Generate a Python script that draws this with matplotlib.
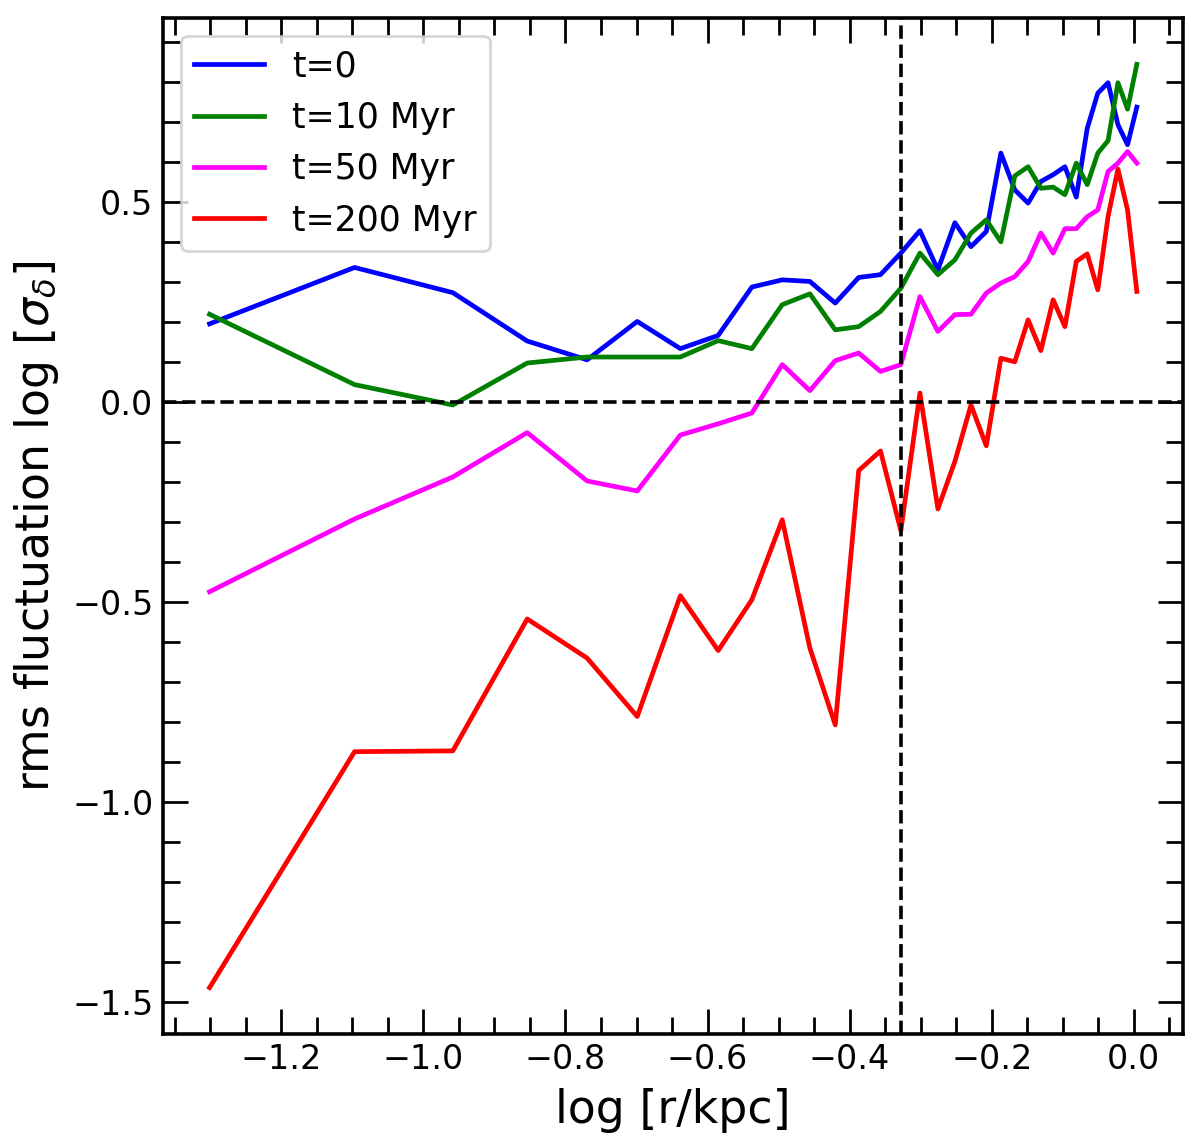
"""
Recreate the rms density-fluctuation profile plot.
"""

import matplotlib
matplotlib.use("Agg")
import matplotlib.pyplot as plt
import numpy as np
from matplotlib.ticker import MultipleLocator


# radial bins (kpc)
R_KPC = [0.05, 0.08, 0.11, 0.14, 0.17, 0.20, 0.23, 0.26, 0.29, 0.32, 0.35,
         0.38, 0.41, 0.44, 0.47, 0.50, 0.53, 0.56, 0.59, 0.62, 0.65, 0.68,
         0.71, 0.74, 0.77, 0.80, 0.83, 0.86, 0.89, 0.92, 0.95, 0.98, 1.01]

# log sigma_delta per snapshot
SIG_T0 = [0.195, 0.336, 0.273, 0.152, 0.105, 0.201, 0.133, 0.166, 0.287,
          0.305, 0.301, 0.247, 0.311, 0.318, 0.372, 0.428, 0.330, 0.448,
          0.388, 0.426, 0.622, 0.530, 0.497, 0.551, 0.568, 0.588, 0.512,
          0.684, 0.772, 0.798, 0.693, 0.643, 0.737]
SIG_T10 = [0.219, 0.043, -0.008, 0.097, 0.112, 0.112, 0.112, 0.153, 0.133,
           0.243, 0.270, 0.180, 0.188, 0.226, 0.284, 0.372, 0.318, 0.355,
           0.422, 0.455, 0.400, 0.565, 0.588, 0.534, 0.537, 0.518, 0.597,
           0.543, 0.622, 0.653, 0.798, 0.732, 0.844]
SIG_T50 = [-0.475, -0.293, -0.188, -0.077, -0.198, -0.223, -0.083, -0.055,
           -0.028, 0.093, 0.028, 0.103, 0.122, 0.076, 0.093, 0.263, 0.176,
           0.218, 0.219, 0.272, 0.297, 0.313, 0.351, 0.422, 0.372, 0.433,
           0.433, 0.463, 0.480, 0.576, 0.597, 0.626, 0.597]
SIG_T200 = [-1.465, -0.875, -0.873, -0.543, -0.641, -0.787, -0.485, -0.622,
            -0.495, -0.295, -0.616, -0.808, -0.172, -0.123, -0.322, 0.022,
            -0.268, -0.149, -0.008, -0.110, 0.109, 0.100, 0.205, 0.128,
            0.255, 0.188, 0.351, 0.370, 0.280, 0.463, 0.582, 0.480, 0.276]

R_MARK = 0.47  # kpc, vertical reference line


def main():
    logr = np.log10(R_KPC)

    fig, ax = plt.subplots(figsize=(6, 5.68), dpi=200)
    fig.subplots_adjust(left=0.136, right=0.986, top=0.984, bottom=0.09)

    ax.plot(logr, SIG_T0, color="blue", lw=1.7, label="t=0")
    ax.plot(logr, SIG_T10, color="green", lw=1.7, label="t=10 Myr")
    ax.plot(logr, SIG_T50, color="magenta", lw=1.7, label="t=50 Myr")
    ax.plot(logr, SIG_T200, color="red", lw=1.7, label="t=200 Myr")

    ax.axhline(0.0, color="black", ls="--", lw=1.3)
    ax.axvline(np.log10(R_MARK), color="black", ls="--", lw=1.3)

    ax.set_xlabel("log [r/kpc]", fontsize=16.5)
    ax.set_ylabel(r"rms fluctuation log [$\sigma_\delta$]", fontsize=16.5)

    ax.xaxis.set_major_locator(MultipleLocator(0.2))
    ax.xaxis.set_minor_locator(MultipleLocator(0.05))
    ax.yaxis.set_major_locator(MultipleLocator(0.5))
    ax.yaxis.set_minor_locator(MultipleLocator(0.1))
    ax.tick_params(which="both", direction="in", top=True, right=True,
                   labelsize=12)
    ax.tick_params(which="major", length=9, width=1)
    ax.tick_params(which="minor", length=6, width=1)
    for sp in ax.spines.values():
        sp.set_linewidth(1.3)

    ax.legend(loc="upper left", fontsize=12.5)

    fig.savefig("out.png", dpi=200)


if __name__ == "__main__":
    main()
